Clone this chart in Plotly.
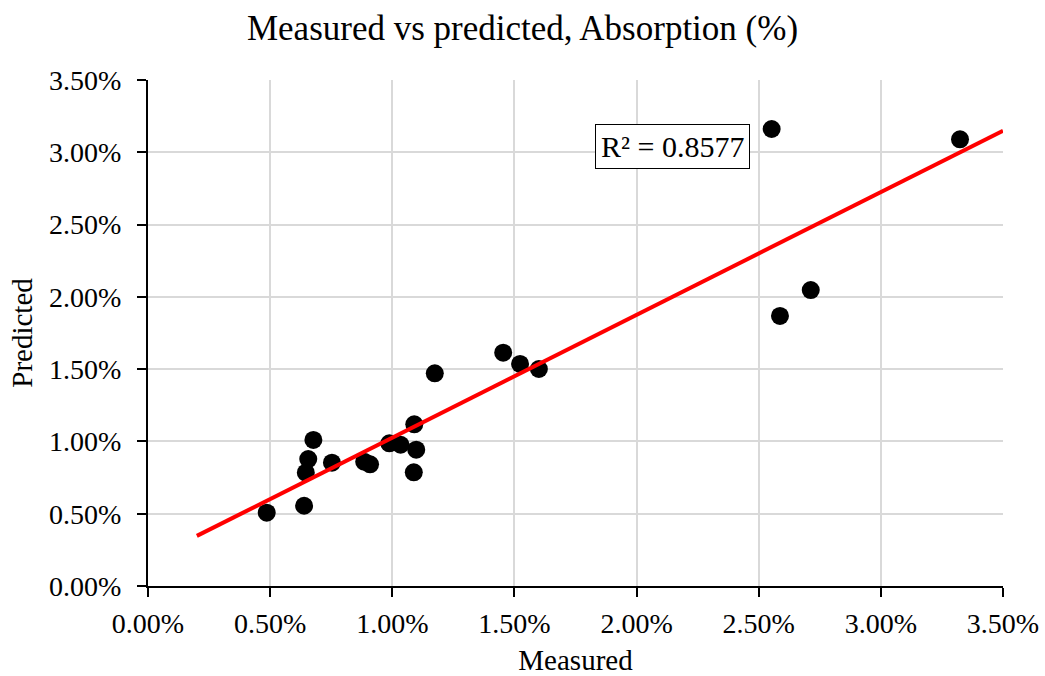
import numpy as np
import plotly.graph_objects as go

# Data (percent values)
measured = [0.486, 0.639, 0.646, 0.656, 0.677, 0.753, 0.885, 0.909, 0.988, 1.034,
            1.098, 1.088, 1.090, 1.174, 1.454, 1.523, 1.600, 2.553, 3.324, 2.713, 2.587]
predicted = [0.507, 0.555, 0.784, 0.878, 1.010, 0.853, 0.860, 0.842, 0.987, 0.977,
             0.943, 0.786, 1.118, 1.471, 1.614, 1.536, 1.501, 3.161, 3.090, 2.047, 1.868]
trend_range = [0.2, 3.5]
r2_text = "R² = 0.8577"
tick_vals = [0, 0.5, 1.0, 1.5, 2.0, 2.5, 3.0, 3.5]
tick_text = ["0.00%", "0.50%", "1.00%", "1.50%", "2.00%", "2.50%", "3.00%", "3.50%"]

slope, intercept = np.polyfit(measured, predicted, 1)
trend_x = np.array(trend_range)
trend_y = slope * trend_x + intercept

FONT = "Liberation Serif, Times New Roman, serif"

fig = go.Figure()
fig.add_trace(go.Scatter(
    x=measured, y=predicted, mode="markers",
    marker=dict(color="black", size=18),
    showlegend=False, hoverinfo="skip"))
fig.add_trace(go.Scatter(
    x=trend_x, y=trend_y, mode="lines",
    line=dict(color="#ff0000", width=4),
    showlegend=False, hoverinfo="skip"))

axis_common = dict(
    range=[0, 3.5], tickmode="array", tickvals=tick_vals, ticktext=tick_text,
    showgrid=True, gridcolor="#d9d9d9", gridwidth=2,
    showline=True, linecolor="black", linewidth=2,
    ticks="outside", ticklen=9, tickwidth=2, tickcolor="black",
    zeroline=False, automargin=False,
    tickfont=dict(family=FONT, size=28, color="black"),
)

fig.update_layout(
    width=1045, height=676,
    margin=dict(l=148, r=42, t=80, b=90),
    paper_bgcolor="white", plot_bgcolor="white",
    font=dict(family=FONT, color="black"),
    title=dict(text="Measured vs predicted, Absorption (%)", x=0.5, xanchor="center",
               y=1 - 28 / 676, yanchor="middle",
               font=dict(family=FONT, size=35, color="black")),
    xaxis=dict(**axis_common, ticklabelstandoff=2,
               title=dict(text="Measured", font=dict(family=FONT, size=29, color="black"), standoff=14)),
    yaxis=dict(**axis_common, ticklabelstandoff=10,
               title=dict(text="Predicted", font=dict(family=FONT, size=29, color="black"), standoff=8)),
    annotations=[dict(
        x=2.146, y=3.043, xref="x", yref="y", text=r2_text, showarrow=False,
        font=dict(family=FONT, size=30, color="black"),
        bordercolor="black", borderwidth=1, borderpad=5, bgcolor="white")],
)

fig.write_html("out.html")
